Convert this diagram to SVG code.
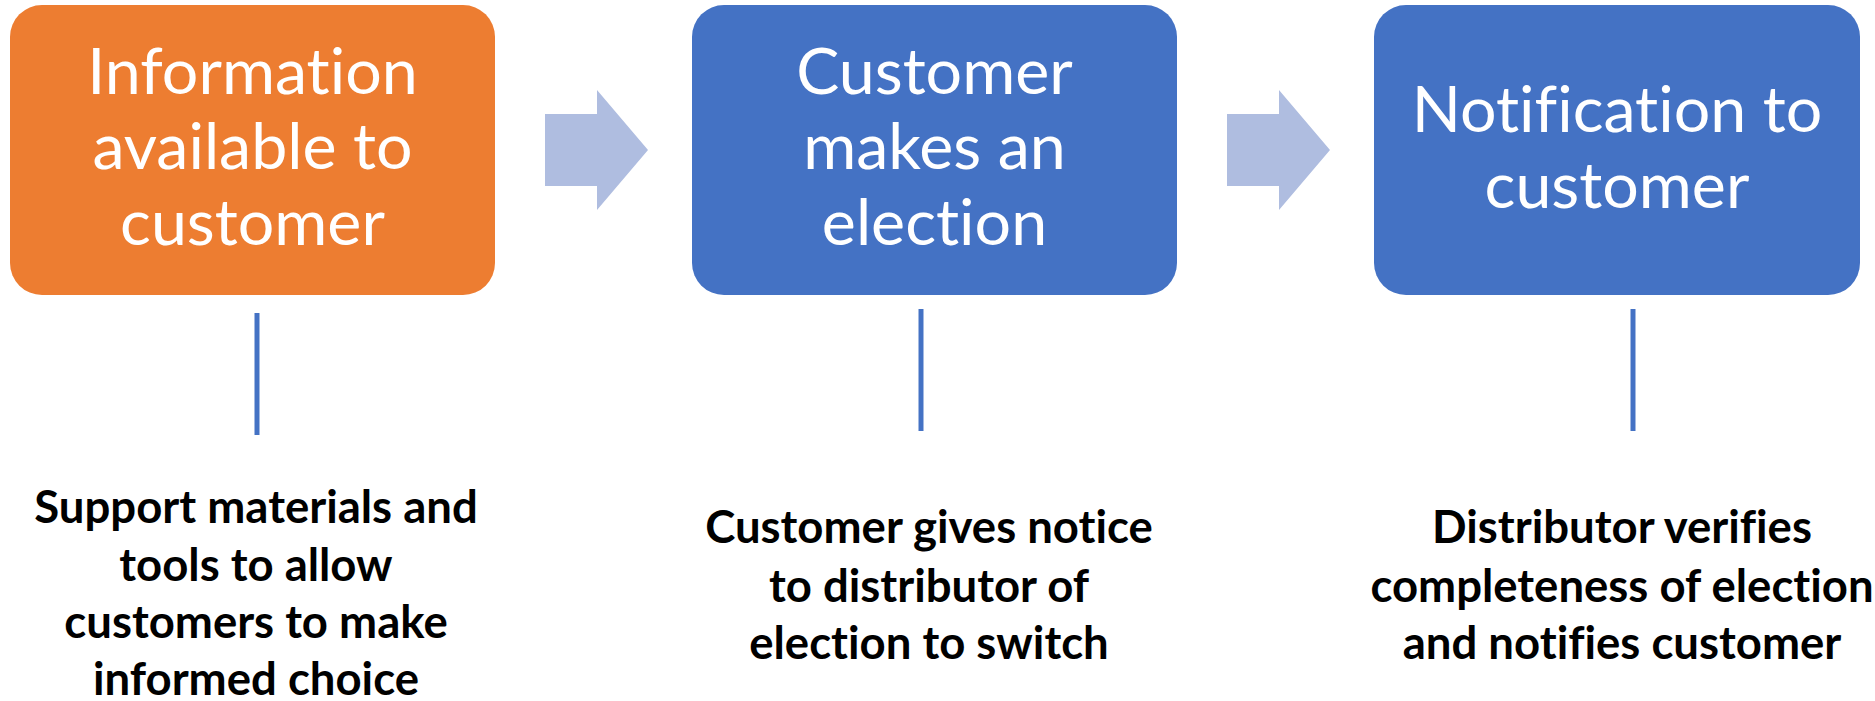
<svg xmlns="http://www.w3.org/2000/svg" width="1875" height="701" viewBox="0 0 1875 701">
  <style>
    .box-orange { fill: #ED7D31; }
    .box-blue { fill: #4472C4; }
    text { font-variant-ligatures: none; }
    .title { font-family: Lato, "Liberation Sans", sans-serif; font-size: 64.5px; fill: #FFFFFF; text-anchor: middle; }
    .note { font-family: Lato, "Liberation Sans", sans-serif; font-weight: bold; font-size: 45.5px; fill: #000000; text-anchor: middle; }
    .arrow { fill: #AFBDE0; }
    .stem { stroke: #4472C4; stroke-width: 5; fill: none; }
  </style>
  <rect width="1875" height="701" fill="#FFFFFF"/>

  <g id="step-information">
    <rect class="box-orange" x="10" y="5" width="485" height="290" rx="32" ry="32"/>
    <text class="title" x="252.5" y="94">Information</text>
    <text class="title" x="252.5" y="169">available to</text>
    <text class="title" x="252.5" y="245">customer</text>
  </g>

  <g id="step-election">
    <rect class="box-blue" x="692" y="5" width="485" height="290" rx="32" ry="32"/>
    <text class="title" x="934.5" y="94">Customer</text>
    <text class="title" x="934.5" y="169">makes an</text>
    <text class="title" x="934.5" y="245">election</text>
  </g>

  <g id="step-notification">
    <rect class="box-blue" x="1374" y="5" width="486" height="290" rx="32" ry="32"/>
    <text class="title" x="1617" y="132">Notification to</text>
    <text class="title" x="1617" y="208">customer</text>
  </g>

  <g id="connectors">
    <polygon class="arrow" points="545,114 597,114 597,90 648,150 597,210 597,186 545,186"/>
    <polygon class="arrow" points="1227,114 1279,114 1279,90 1330,150 1279,210 1279,186 1227,186"/>
    <line class="stem" x1="257" y1="313" x2="257" y2="435"/>
    <line class="stem" x1="921" y1="309" x2="921" y2="431"/>
    <line class="stem" x1="1633" y1="309" x2="1633" y2="431"/>
  </g>

  <g id="detail-information">
    <text class="note" x="256" y="523">Support materials and</text>
    <text class="note" x="256" y="581">tools to allow</text>
    <text class="note" x="256" y="638">customers to make</text>
    <text class="note" x="256" y="695">informed choice</text>
  </g>

  <g id="detail-election">
    <text class="note" x="929" y="543">Customer gives notice</text>
    <text class="note" x="929" y="602">to distributor of</text>
    <text class="note" x="929" y="659">election to switch</text>
  </g>

  <g id="detail-notification">
    <text class="note" x="1622" y="543">Distributor verifies</text>
    <text class="note" x="1622" y="602">completeness of election</text>
    <text class="note" x="1622" y="659">and notifies customer</text>
  </g>
</svg>
